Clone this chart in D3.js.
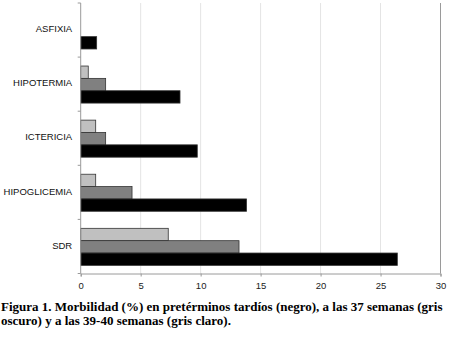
<!DOCTYPE html>
<html><head><meta charset="utf-8">
<script src="https://cdn.jsdelivr.net/npm/d3@7"></script>
<style>body{margin:0;background:#fff}svg{display:block}</style>
</head><body>
<svg id="c" width="450" height="356"></svg>
<script>
const categories = ["ASFIXIA","HIPOTERMIA","ICTERICIA","HIPOGLICEMIA","SDR"];
const seriesNames = ["39-40 semanas","37 semanas","pretérminos tardíos"];
const light = [0, 0.63, 1.25, 1.25, 7.3];
const dark = [0, 2.08, 2.08, 4.28, 13.2];
const black = [1.33, 8.28, 9.72, 13.83, 26.4];
const xTicks = [0,5,10,15,20,25,30];
const colors = ["#c0c0c0","#808080","#000000"];
const captionLines = ["Figura 1. Morbilidad (%) en pretérminos tardíos (negro), a las 37 semanas (gris","oscuro) y a las 39-40 semanas (gris claro)."];

const svg = d3.select("#c");
const L = 80.7, R = 440.5, T = 3, B = 273.5;
const x = d3.scaleLinear().domain([0,30]).range([L,R]);
const y = d3.scaleBand().domain(categories).range([T,B]).paddingInner(0).paddingOuter(0);
const inner = d3.scaleBand().domain([0,1,2]).range([y.bandwidth()*0.165, y.bandwidth()*0.85]);

// gridlines
svg.append("g").selectAll("line").data(xTicks.slice(1,-1)).join("line")
  .attr("x1",d=>x(d)).attr("x2",d=>x(d)).attr("y1",T).attr("y2",B)
  .attr("stroke","#e4e4e4").attr("stroke-width",1);
svg.append("line").attr("x1",x(30)).attr("x2",x(30)).attr("y1",T).attr("y2",B)
  .attr("stroke","#9a9a9a");

const series = [light, dark, black];
series.forEach((vals,si)=>{
  svg.append("g").selectAll("rect").data(categories.map((c,i)=>({c,v:vals[i]})).filter(d=>d.v>0)).join("rect")
    .attr("x",x(0)).attr("y",d=>y(d.c)+inner(si))
    .attr("width",d=>x(d.v)-x(0)).attr("height",inner.bandwidth())
    .attr("fill",colors[si]).attr("stroke","#333").attr("stroke-width",0.8);
});

// x axis
const xa = svg.append("g").attr("transform",`translate(0,${B})`)
  .call(d3.axisBottom(x).tickValues(xTicks).tickSize(3).tickPadding(6));
xa.select(".domain").attr("stroke","#9a9a9a");
xa.selectAll(".tick line").attr("stroke","#9a9a9a");
xa.selectAll("text").attr("font-family","Liberation Sans, Arial, sans-serif").attr("font-size","9.5px").attr("fill","#222");

// y axis
const ya = svg.append("g").attr("transform",`translate(${L},0)`);
ya.append("line").attr("x1",0).attr("x2",0).attr("y1",T).attr("y2",B).attr("stroke","#9a9a9a");
const bounds = categories.map(c=>y(c)).concat([B]);
ya.selectAll(".tk").data(bounds).join("line").attr("class","tk")
  .attr("x1",-3).attr("x2",0).attr("y1",d=>d).attr("y2",d=>d).attr("stroke","#9a9a9a");
ya.selectAll("text").data(categories).join("text")
  .attr("x",-8.5).attr("y",d=>y(d)+y.bandwidth()*0.48).attr("dy","0.35em")
  .attr("text-anchor","end").attr("font-family","Liberation Sans, Arial, sans-serif")
  .attr("font-size","9.5px").attr("fill","#111").text(d=>d);

// caption
svg.append("g").selectAll("text").data(captionLines).join("text")
  .attr("x",1).attr("y",(d,i)=>311+i*13.5)
  .attr("font-family","Liberation Serif, Times New Roman, serif").attr("font-weight","bold")
  .attr("font-size","13px").attr("fill","#000").text(d=>d);
</script>
</body></html>
